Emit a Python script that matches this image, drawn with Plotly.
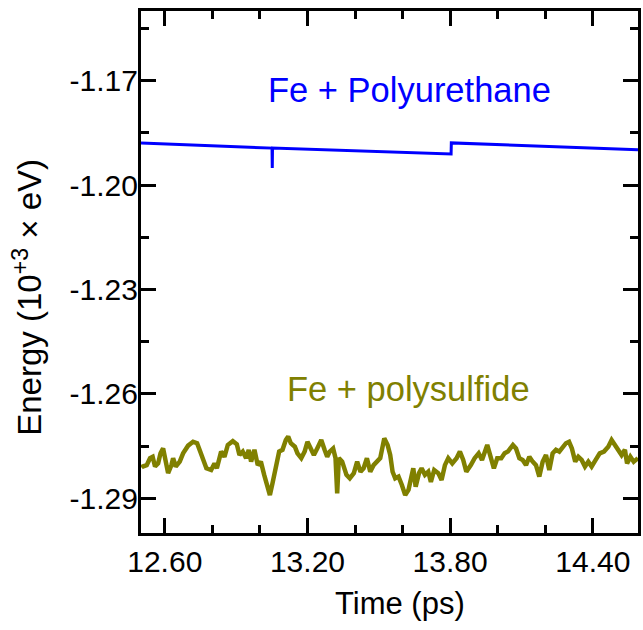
import plotly.graph_objects as go

# ---------------- data ----------------
pu_time = [12.50, 13.051, 13.052, 13.053, 13.804, 13.805, 14.59]
pu_energy = [-1.1879, -1.1894, -1.1951, -1.1894, -1.1911, -1.1879, -1.1899]

ps_time = [
    12.502, 12.507, 12.524, 12.538, 12.549, 12.559, 12.572, 12.582, 12.593, 12.603,
    12.614, 12.628, 12.635, 12.646, 12.663, 12.677, 12.698, 12.719, 12.736, 12.749,
    12.763, 12.775, 12.795, 12.809, 12.819, 12.837, 12.851, 12.865, 12.886, 12.903,
    12.914, 12.928, 12.942, 12.953, 12.963, 12.977, 12.991, 13.004, 13.018, 13.032,
    13.042, 13.053, 13.067, 13.081, 13.095, 13.109, 13.119, 13.130, 13.147, 13.158,
    13.174, 13.188, 13.200, 13.214, 13.227, 13.241, 13.258, 13.272, 13.283, 13.294,
    13.308, 13.318, 13.325, 13.332, 13.346, 13.364, 13.378, 13.395, 13.409, 13.423,
    13.436, 13.450, 13.464, 13.478, 13.492, 13.506, 13.523, 13.537, 13.548, 13.558,
    13.569, 13.583, 13.597, 13.611, 13.625, 13.636, 13.645, 13.655, 13.669, 13.680,
    13.694, 13.708, 13.719, 13.733, 13.750, 13.764, 13.778, 13.792, 13.809, 13.827,
    13.841, 13.855, 13.868, 13.887, 13.903, 13.920, 13.934, 13.956, 13.970, 13.984,
    13.998, 14.015, 14.029, 14.043, 14.064, 14.077, 14.091, 14.105, 14.119, 14.133,
    14.147, 14.161, 14.175, 14.189, 14.203, 14.217, 14.231, 14.245, 14.259, 14.273,
    14.287, 14.300, 14.312, 14.326, 14.339, 14.353, 14.367, 14.381, 14.395, 14.412,
    14.429, 14.447, 14.465, 14.479, 14.493, 14.507, 14.521, 14.535, 14.544, 14.558,
    14.572, 14.590,
]
ps_energy = [
    -1.2812, -1.2809, -1.2805, -1.2785, -1.2781, -1.2809, -1.2800, -1.2771, -1.2757, -1.2785,
    -1.2828, -1.2805, -1.2785, -1.2809, -1.2795, -1.2771, -1.2749, -1.2738, -1.2742, -1.2766,
    -1.2795, -1.2814, -1.2819, -1.2800, -1.2814, -1.2766, -1.2781, -1.2747, -1.2736, -1.2745,
    -1.2776, -1.2766, -1.2785, -1.2761, -1.2795, -1.2761, -1.2805, -1.2795, -1.2833, -1.2872,
    -1.2891, -1.2857, -1.2814, -1.2766, -1.2761, -1.2733, -1.2723, -1.2742, -1.2752, -1.2771,
    -1.2785, -1.2766, -1.2738, -1.2757, -1.2776, -1.2757, -1.2733, -1.2761, -1.2781, -1.2766,
    -1.2757, -1.2785, -1.2886, -1.2785, -1.2795, -1.2833, -1.2843, -1.2828, -1.2795, -1.2824,
    -1.2814, -1.2785, -1.2824, -1.2805, -1.2795, -1.2785, -1.2728, -1.2747, -1.2776, -1.2824,
    -1.2843, -1.2838, -1.2862, -1.2891, -1.2876, -1.2833, -1.2814, -1.2867, -1.2828, -1.2814,
    -1.2833, -1.2824, -1.2853, -1.2819, -1.2828, -1.2848, -1.2805, -1.2785, -1.2800, -1.2785,
    -1.2766, -1.2790, -1.2824, -1.2805, -1.2785, -1.2771, -1.2790, -1.2747, -1.2776, -1.2814,
    -1.2785, -1.2785, -1.2771, -1.2766, -1.2747, -1.2757, -1.2785, -1.2790, -1.2805, -1.2781,
    -1.2795, -1.2805, -1.2838, -1.2795, -1.2776, -1.2819, -1.2771, -1.2761, -1.2766, -1.2752,
    -1.2742, -1.2738, -1.2757, -1.2795, -1.2781, -1.2790, -1.2809, -1.2795, -1.2809, -1.2790,
    -1.2771, -1.2766, -1.2752, -1.2733, -1.2747, -1.2766, -1.2776, -1.2761, -1.2800, -1.2781,
    -1.2795, -1.2785,
]

x_ticks = [12.60, 13.20, 13.80, 14.40]
x_ticktext = ["12.60", "13.20", "13.80", "14.40"]
y_ticks = [-1.29, -1.26, -1.23, -1.20, -1.17]
y_ticktext = ["-1.29", "-1.26", "-1.23", "-1.20", "-1.17"]

label_pu = "Fe + Polyurethane"
label_ps = "Fe + polysulfide"
x_title = "Time (ps)"
y_title = "Energy (10<sup>+3</sup> × eV)"

BLUE = "#0000FF"
OLIVE = "#808000"
FONT = "Liberation Sans, Arial, sans-serif"

fig = go.Figure()
fig.add_trace(go.Scatter(x=pu_time, y=pu_energy, mode="lines",
                         line=dict(color=BLUE, width=3), showlegend=False))
fig.add_trace(go.Scatter(x=ps_time, y=ps_energy, mode="lines",
                         line=dict(color=OLIVE, width=4.5), showlegend=False))

fig.add_annotation(x=13.629, y=-1.1728, text=label_pu, showarrow=False,
                   font=dict(family=FONT, size=34.5, color=BLUE),
                   xanchor="center", yanchor="middle")
fig.add_annotation(x=13.625, y=-1.2585, text=label_ps, showarrow=False,
                   font=dict(family=FONT, size=34.5, color=OLIVE),
                   xanchor="center", yanchor="middle")

# axis titles (placed as paper annotations to match reference offsets)
fig.add_annotation(xref="paper", yref="paper", x=0.521, y=-0.136, text=x_title,
                   showarrow=False, font=dict(family=FONT, size=31, color="black"),
                   xanchor="center", yanchor="middle")
fig.add_annotation(xref="paper", yref="paper", x=-0.228, y=0.452, text=y_title,
                   showarrow=False, textangle=-90,
                   font=dict(family=FONT, size=33, color="black"),
                   xanchor="center", yanchor="middle")

axis_common = dict(showline=True, linecolor="black", linewidth=3, mirror="ticks",
                   ticks="inside", ticklen=15, tickwidth=2.5, tickcolor="black",
                   showgrid=False, zeroline=False,
                   tickfont=dict(family=FONT, size=30, color="black"))

fig.update_xaxes(range=[12.50, 14.59], tickvals=x_ticks, ticktext=x_ticktext,
                 minor=dict(dtick=0.2, tick0=12.6, ticks="inside", ticklen=8,
                            tickwidth=2.5, tickcolor="black", showgrid=False),
                 ticklabelstandoff=0,
                 **axis_common)
fig.update_yaxes(range=[-1.30, -1.15], tickvals=y_ticks, ticktext=y_ticktext,
                 minor=dict(dtick=0.015, tick0=-1.29, ticks="inside", ticklen=8,
                            tickwidth=2.5, tickcolor="black", showgrid=False),
                 ticklabelstandoff=-6,
                 **axis_common)

fig.update_layout(width=643, height=630, autosize=False,
                  margin=dict(l=141, r=2, t=11, b=97),
                  plot_bgcolor="white", paper_bgcolor="white")

fig.write_html("out.html")
